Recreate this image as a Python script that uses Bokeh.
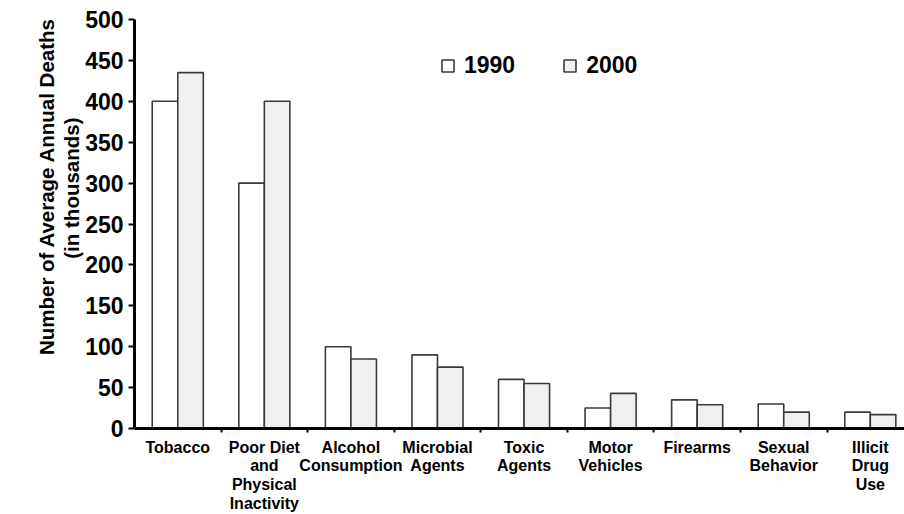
from bokeh.plotting import figure
from bokeh.models import (Range1d, FixedTicker, ColumnDataSource, Legend, LegendItem,
                          LinearAxis, Title)
from bokeh.embed import file_html
from bokeh.resources import INLINE

categories = ["Tobacco", "Poor Diet\nand\nPhysical\nInactivity", "Alcohol\nConsumption",
              "Microbial\nAgents", "Toxic\nAgents", "Motor\nVehicles", "Firearms",
              "Sexual\nBehavior", "Illicit\nDrug\nUse"]
deaths_1990 = [400, 300, 100, 90, 60, 25, 35, 30, 20]
deaths_2000 = [435, 400, 85, 75, 55, 43, 29, 20, 17]
y_ticks = [0, 50, 100, 150, 200, 250, 300, 350, 400, 450, 500]
series_names = ["1990", "2000"]
y_title_lines = ["Number of Average Annual Deaths", "(in thousands)"]

FONT = "Liberation Sans"
pos = [i + 0.5 for i in range(len(categories))]
bounds = [float(i) for i in range(1, len(categories))]
bw = 0.295

p = figure(width=904, height=514, output_backend="svg", toolbar_location=None,
           x_range=Range1d(0, 8.895), y_range=Range1d(0, 500), x_axis_type=None,
           min_border_left=134, min_border_right=0, min_border_top=19, min_border_bottom=86)
p.outline_line_color = None
p.grid.visible = False

src = ColumnDataSource(dict(x1=[v - bw / 2 for v in pos], x2=[v + bw / 2 for v in pos],
                            a=deaths_1990, b=deaths_2000))
r1 = p.vbar(x="x1", top="a", width=bw, source=src, fill_color="white",
            line_color="#3a3a3a", line_width=1.6)
r2 = p.vbar(x="x2", top="b", width=bw, source=src, fill_color="#f0f0f0",
            line_color="#3a3a3a", line_width=1.6)

# axis line + boundary ticks (closest to frame)
xb = LinearAxis(ticker=FixedTicker(ticks=bounds, minor_ticks=[]))
xb.major_label_overrides = {v: "" for v in bounds}
xb.major_label_text_font_size = "1px"
xb.major_tick_in = 0
xb.major_tick_out = 4
xb.major_tick_line_width = 2
xb.major_tick_line_color = "black"
xb.minor_tick_line_color = None
xb.axis_line_width = 3
xb.axis_line_color = "black"
xb.major_label_standoff = 0
p.add_layout(xb, "below")

# category labels
xa = LinearAxis(ticker=FixedTicker(ticks=pos, minor_ticks=[]))
xa.major_label_overrides = {v: c for v, c in zip(pos, categories)}
xa.major_tick_line_color = None
xa.minor_tick_line_color = None
xa.axis_line_color = None
xa.major_label_text_font = FONT
xa.major_label_text_font_style = "bold"
xa.major_label_text_font_size = "16px"
xa.major_label_text_color = "black"
xa.major_label_standoff = 0
xa.major_label_text_line_height = 1.1
p.add_layout(xa, "below")

ya = p.yaxis[0]
ya.ticker = FixedTicker(ticks=y_ticks, minor_ticks=[])
ya.axis_line_width = 3
ya.axis_line_color = "black"
ya.major_tick_line_width = 2
ya.major_tick_line_color = "black"
ya.major_tick_in = 0
ya.major_tick_out = 6
ya.minor_tick_line_color = None
ya.major_label_text_font = FONT
ya.major_label_text_font_style = "bold"
ya.major_label_text_font_size = "23px"
ya.major_label_text_color = "black"
ya.major_label_standoff = 5

# invisible spacer between the tick labels and the axis title (no ticks are drawn)
spacer = LinearAxis(ticker=FixedTicker(ticks=[], minor_ticks=[]))
spacer.axis_line_color = None
spacer.major_tick_line_color = "white"
spacer.minor_tick_line_color = None
spacer.major_tick_in = 0
spacer.major_tick_out = 26
spacer.minor_tick_in = 0
spacer.minor_tick_out = 0
spacer.major_label_standoff = 0
p.add_layout(spacer, "left")

title_offsets = [-2, 98]
for line, off in reversed(list(zip(y_title_lines, title_offsets))):
    t = Title(text=line, align="right", offset=off, standoff=0,
              text_font=FONT, text_font_style="bold", text_font_size="20.5px",
              text_color="black")
    p.add_layout(t, "left")

legend = Legend(items=[LegendItem(label=series_names[0], renderers=[r1]),
                       LegendItem(label=series_names[1], renderers=[r2])],
                location=(306, 349), orientation="horizontal",
                glyph_width=15, glyph_height=15, label_standoff=9, spacing=47,
                padding=0, margin=0,
                background_fill_alpha=0, border_line_color=None,
                label_text_font=FONT, label_text_font_style="bold",
                label_text_font_size="23px", label_text_color="black")
p.add_layout(legend, "center")

open("out.html", "w").write(file_html(p, INLINE))
